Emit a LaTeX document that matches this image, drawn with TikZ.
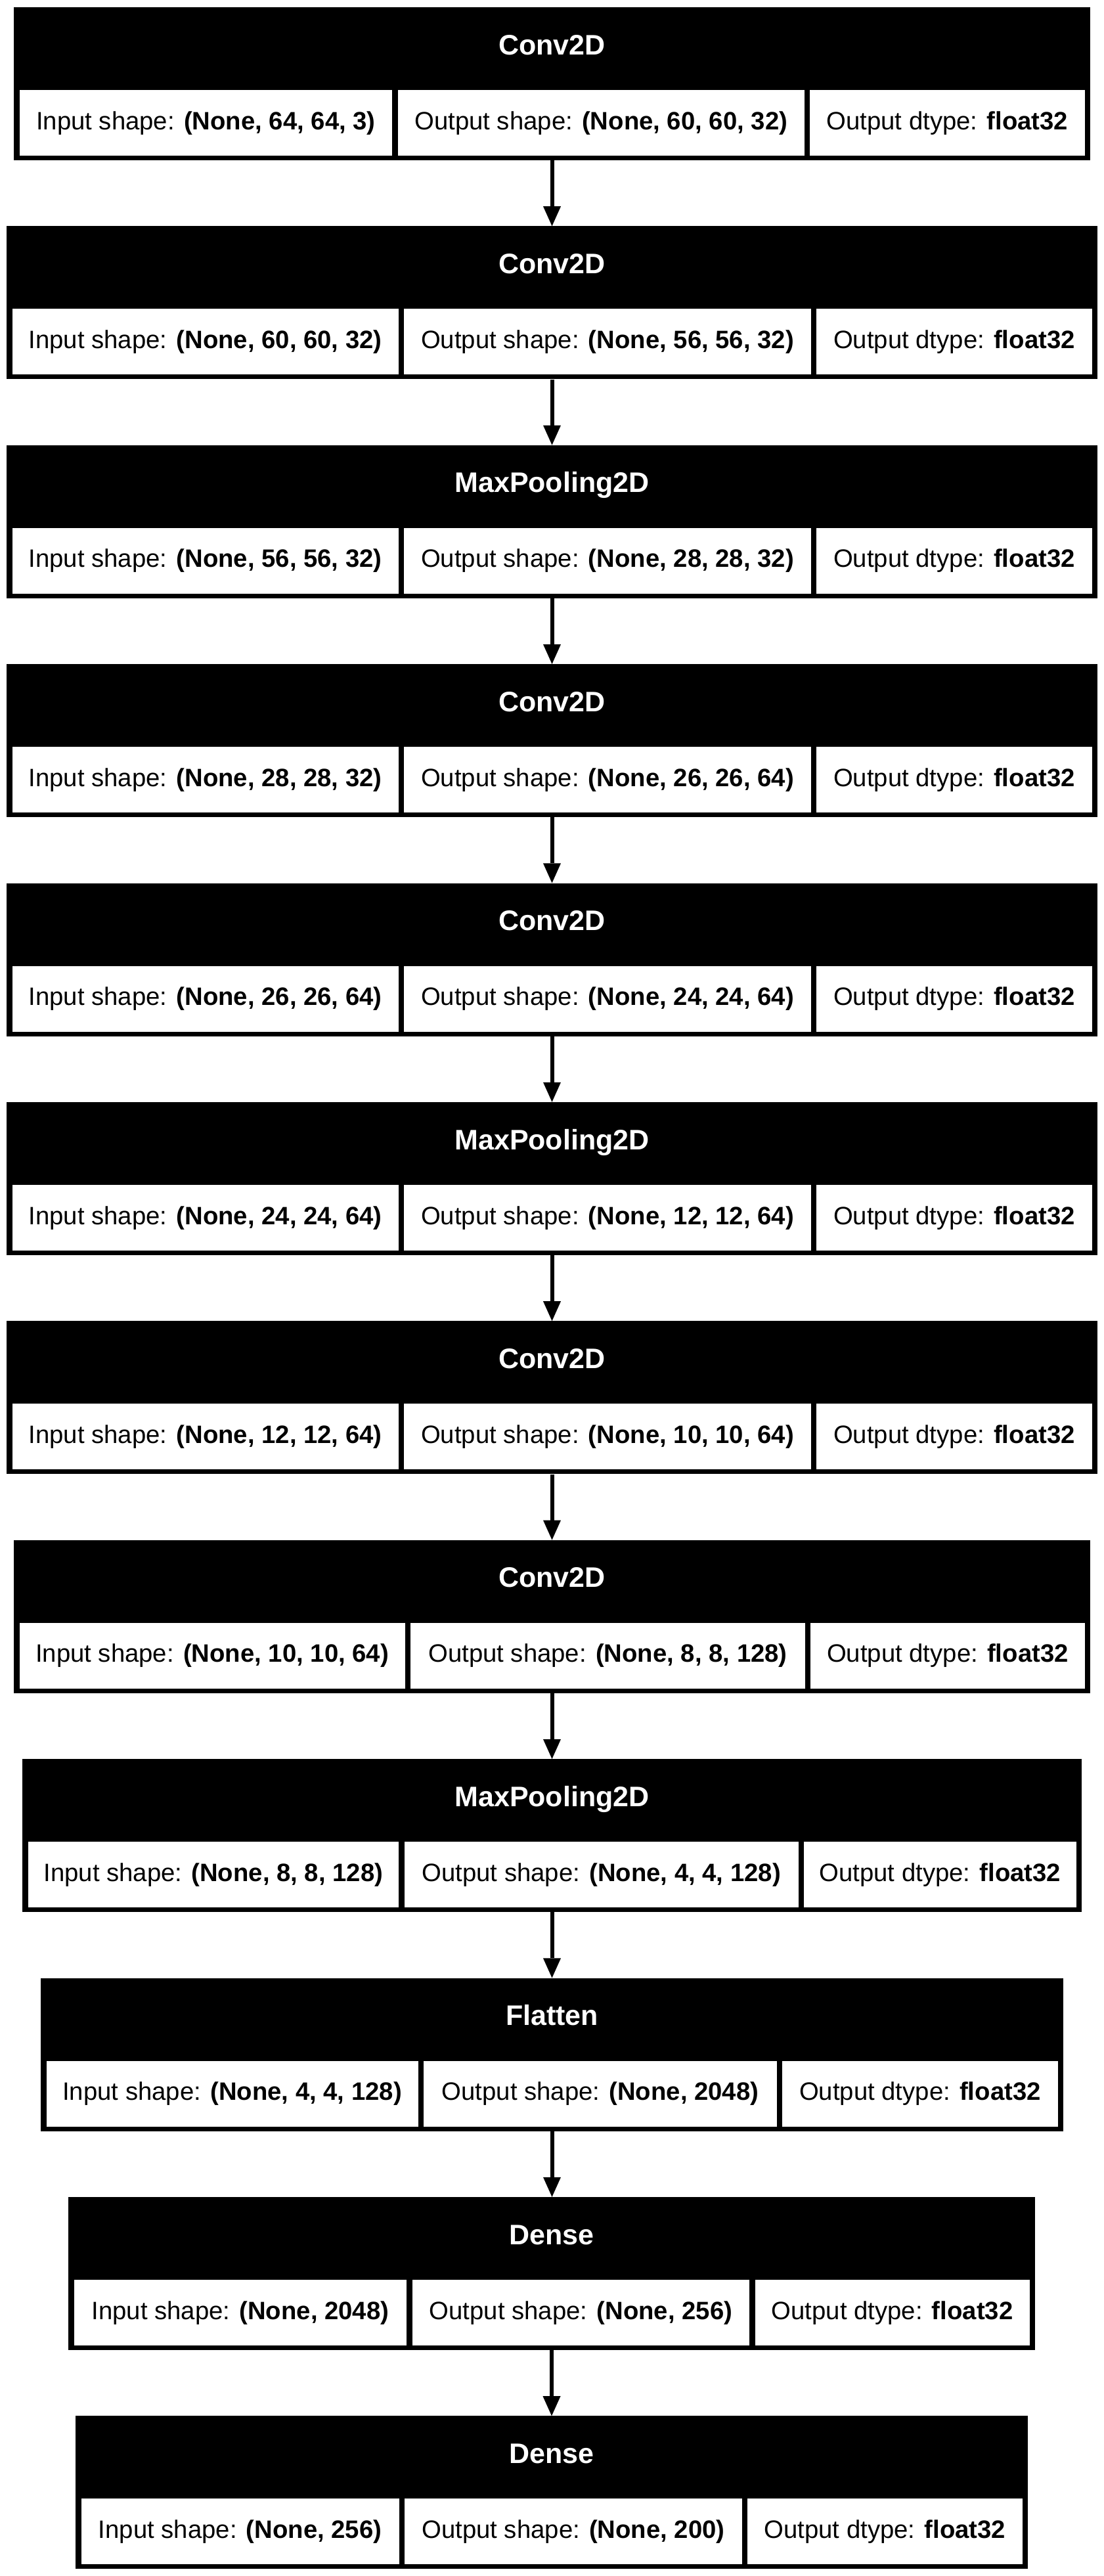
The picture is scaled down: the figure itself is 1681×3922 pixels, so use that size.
\documentclass[tikz,border=0pt]{standalone}
\usepackage{fontspec}
\setmainfont{Liberation Sans}
\usetikzlibrary{arrows.meta}
\tikzset{
  blk/.style={rectangle, fill=black, draw=none, inner sep=0pt, minimum height=233pt},
  hdr/.style={rectangle, inner sep=0pt, text=white, font=\fontsize{43}{50}\selectfont\bfseries, text height=31pt, text depth=13pt},
  cell/.style={rectangle, fill=white, draw=none, inner sep=0pt, minimum height=100pt, font=\fontsize{38.3}{46}\selectfont, text height=28pt, text depth=8pt},
  flow/.style={line width=6pt, -{Triangle[width=27pt,length=30pt,line width=0pt]}}
}
% #1 id, #2 top, #3 left, #4 sep1, #5 sep2, #6 right, #7 title, #8 input, #9 output
\newcommand\layerblock[9]{%
  \node[blk, minimum width={#6-#3}] (b#1) at ({(#3+#6)/2}, {#2+116.5}) {};
  \node[hdr] (h#1) at ({(#3+#6)/2}, {#2+63}) {#7};
  \node[cell, minimum width={#4-#3-12.75}] (i#1) at ({(#3+8.5+#4-4.25)/2}, {#2+176}) {Input shape: \textbf{#8}};
  \node[cell, minimum width={#5-#4-8.5}] (o#1) at ({(#4+#5)/2}, {#2+176}) {Output shape: \textbf{#9}};
  \node[cell, minimum width={#6-#5-12.75}] (d#1) at ({(#5+4.25+#6-8.5)/2}, {#2+176}) {Output dtype: \textbf{float32}};
}
\begin{document}
\begin{tikzpicture}[x=1pt, y=-1pt]
\useasboundingbox[fill=white] (0,0) rectangle (1681,3922);
\layerblock{1}{11}{21}{601.5}{1229}{1660}{Conv2D}{(None, 64, 64, 3)}{(None, 60, 60, 32)}
\layerblock{2}{344.4}{10}{611}{1239}{1671}{Conv2D}{(None, 60, 60, 32)}{(None, 56, 56, 32)}
\layerblock{3}{677.8}{10}{611}{1239}{1671}{MaxPooling2D}{(None, 56, 56, 32)}{(None, 28, 28, 32)}
\layerblock{4}{1011.2}{10}{611}{1239}{1671}{Conv2D}{(None, 28, 28, 32)}{(None, 26, 26, 64)}
\layerblock{5}{1344.6}{10}{611}{1239}{1671}{Conv2D}{(None, 26, 26, 64)}{(None, 24, 24, 64)}
\layerblock{6}{1678}{10}{611}{1239}{1671}{MaxPooling2D}{(None, 24, 24, 64)}{(None, 12, 12, 64)}
\layerblock{7}{2011.4}{10}{611}{1239}{1671}{Conv2D}{(None, 12, 12, 64)}{(None, 10, 10, 64)}
\layerblock{8}{2344.8}{21}{621}{1230}{1660}{Conv2D}{(None, 10, 10, 64)}{(None, 8, 8, 128)}
\layerblock{9}{2678.2}{34}{611.5}{1220}{1647}{MaxPooling2D}{(None, 8, 8, 128)}{(None, 4, 4, 128)}
\layerblock{10}{3011.6}{62}{641}{1187}{1619}{Flatten}{(None, 4, 4, 128)}{(None, 2048)}
\layerblock{11}{3345}{104}{623.5}{1145.5}{1576}{Dense}{(None, 2048)}{(None, 256)}
\layerblock{12}{3678.4}{115}{612}{1134}{1565}{Dense}{(None, 256)}{(None, 200)}
\foreach \a/\b in {1/2,2/3,3/4,4/5,5/6,6/7,7/8,8/9,9/10,10/11,11/12}{
  \draw[flow] (b\a.south) -- (b\a.south |- b\b.north);
}
\end{tikzpicture}
\end{document}
